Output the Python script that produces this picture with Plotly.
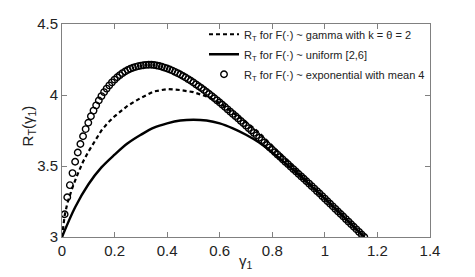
import plotly.graph_objects as go

# --- data ---
x_uniform = [0, 0.05, 0.1, 0.15, 0.2, 0.25, 0.3, 0.35, 0.4, 0.45, 0.5, 0.55, 0.6,
             0.65, 0.7, 0.75, 0.8, 0.85, 0.9, 0.95, 1.0, 1.05, 1.1, 1.15]
y_uniform = [3.0, 3.21, 3.37, 3.49, 3.58, 3.66, 3.72, 3.77, 3.80, 3.82, 3.826, 3.82, 3.80,
             3.765, 3.72, 3.665, 3.595, 3.52, 3.44, 3.355, 3.27, 3.18, 3.09, 3.0]

x_gamma = [0, 0.01, 0.02, 0.04, 0.06, 0.08, 0.1, 0.125, 0.15, 0.175, 0.2, 0.25, 0.3,
           0.35, 0.4, 0.45, 0.5, 0.55, 0.6, 0.65, 0.7, 0.75, 0.8, 0.85, 0.9, 0.95,
           1.0, 1.05, 1.1, 1.15]
y_gamma = [3.0, 3.15, 3.235, 3.35, 3.445, 3.53, 3.6, 3.68, 3.75, 3.805, 3.85, 3.925, 3.98,
           4.025, 4.042, 4.035, 4.02, 3.99, 3.945, 3.875, 3.81, 3.735, 3.64, 3.55, 3.455, 3.365,
           3.27, 3.18, 3.09, 3.0]

x_exp = [round(0.01 * i, 2) for i in range(1, 116)]
y_exp = [3.16, 3.28, 3.365, 3.45, 3.53, 3.595, 3.655, 3.71, 3.76, 3.805,
         3.85, 3.89, 3.927, 3.961, 3.992, 4.02, 4.045, 4.068, 4.089, 4.108,
         4.125, 4.14, 4.154, 4.166, 4.176, 4.185, 4.192, 4.198, 4.203, 4.207,
         4.21, 4.212, 4.213, 4.213, 4.211, 4.208, 4.204, 4.199, 4.193, 4.187,
         4.180, 4.172, 4.163, 4.154, 4.144, 4.134, 4.123, 4.112, 4.100, 4.088,
         4.075, 4.062, 4.049, 4.035, 4.021, 4.007, 3.992, 3.977, 3.962, 3.947,
         3.931, 3.915, 3.899, 3.883, 3.867, 3.851, 3.835, 3.818, 3.801, 3.784,
         3.767, 3.750, 3.733, 3.716, 3.699, 3.682, 3.665, 3.648, 3.631, 3.614,
         3.597, 3.580, 3.563, 3.546, 3.529, 3.512, 3.495, 3.478, 3.461, 3.444,
         3.427, 3.410, 3.393, 3.376, 3.358, 3.341, 3.323, 3.306, 3.288, 3.270,
         3.252, 3.234, 3.216, 3.198, 3.180, 3.162, 3.144, 3.126, 3.108, 3.090,
         3.072, 3.054, 3.036, 3.018, 3.000]

x_ticks = [0, 0.2, 0.4, 0.6, 0.8, 1.0, 1.2, 1.4]
x_tick_labels = ["0", "0.2", "0.4", "0.6", "0.8", "1", "1.2", "1.4"]
y_ticks = [3, 3.5, 4, 4.5]
y_tick_labels = ["3", "3.5", "4", "4.5"]

names = ["R<sub>T</sub> for F(\u00b7) ~ gamma with k = \u03b8 = 2",
         "R<sub>T</sub> for F(\u00b7) ~ uniform [2,6]",
         "R<sub>T</sub> for F(\u00b7) ~ exponential with mean 4"]
x_title = "\u03b3<sub>1</sub>"
y_title = "R<sub>T</sub>(\u03b3<sub>1</sub>)"

FONT = "Liberation Sans, Arial, Helvetica, sans-serif"

fig = go.Figure()
fig.add_trace(go.Scatter(x=x_gamma, y=y_gamma, mode="lines", name=names[0], legendgroup="g",
                         line=dict(color="black", width=2.2, dash="4px,3px")))
fig.add_trace(go.Scatter(x=x_uniform, y=y_uniform, mode="lines", name=names[1], legendgroup="u",
                         line=dict(color="black", width=2.4, shape="spline")))
fig.add_trace(go.Scatter(x=x_exp, y=y_exp, mode="markers", name=names[2], legendgroup="e",
                         marker=dict(symbol="circle-open", size=6.5, color="black",
                                     line=dict(width=1.4, color="black"))))

axis_common = dict(showgrid=False, zeroline=False, showline=True, mirror="ticks",
                   linecolor="#808080", linewidth=1, ticks="inside", ticklen=5,
                   tickcolor="#808080", automargin=False,
                   tickfont=dict(family=FONT, size=15, color="#222"))

# page body adds an 8px offset; figure sized to fit the 475x277 window
fig.update_layout(
    width=467, height=269,
    margin=dict(l=54, r=45, t=13, b=40),
    paper_bgcolor="white", plot_bgcolor="white",
    showlegend=True,
    legend=dict(x=1, y=1.02, xanchor="right", yanchor="top", bgcolor="rgba(255,255,255,0)",
                font=dict(family=FONT, size=11, color="#222"), tracegroupgap=1,
                itemwidth=30),
    xaxis=dict(range=[0, 1.4], tickvals=x_ticks, ticktext=x_tick_labels, **axis_common),
    yaxis=dict(range=[3, 4.5], tickvals=y_ticks, ticktext=y_tick_labels, **axis_common),
    annotations=[
        dict(text=x_title, xref="paper", yref="paper", x=0.5, y=-0.115,
             xanchor="center", yanchor="middle", showarrow=False,
             font=dict(family=FONT, size=15, color="#222")),
        dict(text=y_title, xref="paper", yref="paper", x=-0.092, y=0.52,
             xanchor="center", yanchor="middle", textangle=-90, showarrow=False,
             font=dict(family=FONT, size=15, color="#222")),
    ],
)

fig.write_html("out.html")
